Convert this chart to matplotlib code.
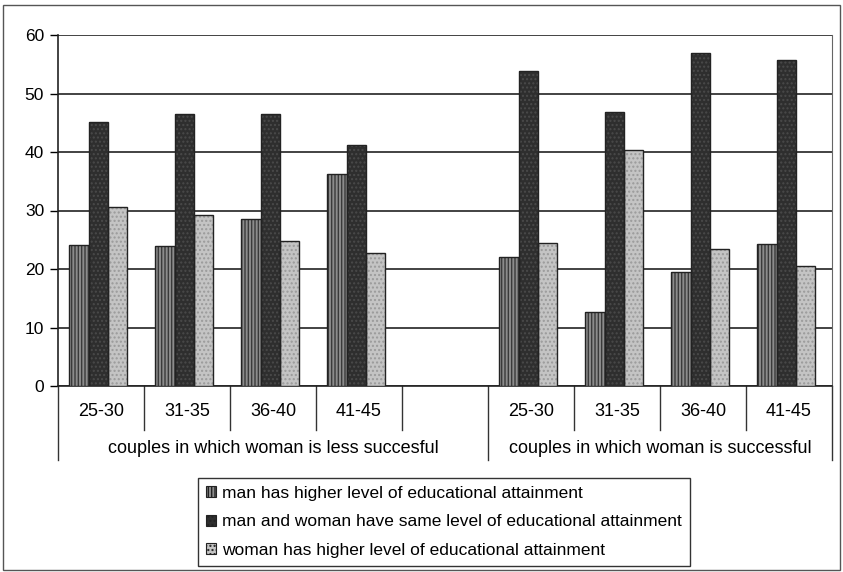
import matplotlib.pyplot as plt
from matplotlib.patches import Patch, Rectangle

plt.rcParams['font.family'] = ['Liberation Sans', 'DejaVu Sans']

age_groups = ['25-30', '31-35', '36-40', '41-45']
group_names = ['couples in which woman is less succesful',
               'couples in which woman is successful']
series_names = ['man has higher level of educational attainment',
                'man and woman have same level of educational attainment',
                'woman has higher level of educational attainment']

# values per series: 4 bars for group 1, then 4 for group 2
man_higher = [24.1, 23.9, 28.5, 36.2, 22.1, 12.7, 19.5, 24.2]
same_level = [45.1, 46.5, 46.5, 41.2, 53.8, 46.8, 57.0, 55.7]
woman_higher = [30.6, 29.3, 24.8, 22.8, 24.4, 40.4, 23.5, 20.5]

# slot positions: 4 categories, one empty slot, 4 categories
slots = [0, 1, 2, 3, 5, 6, 7, 8]

fig = plt.figure(figsize=(8.43, 5.72), dpi=100)
ax = fig.add_axes([58 / 843, 1 - 386 / 572, (832 - 58) / 843, (386 - 35) / 572])

w = 0.225
styles = [
    (man_higher, '#8c8c8c', '#3a3a3a', '|||||'),
    (same_level, '#2e2e2e', '#4a4a4a', '....'),
    (woman_higher, '#c4c4c4', '#9a9a9a', '....'),
]
for k, (vals, fc, hc, hatch) in enumerate(styles):
    xs = [s + 0.47 + (k - 1) * w for s in slots]
    ax.bar(xs, vals, width=w, color=fc, edgecolor=hc, hatch=hatch, linewidth=0, zorder=3)
    ax.bar(xs, vals, width=w, fill=False, edgecolor='#222222', linewidth=1.0, zorder=4)

ax.set_xlim(0, 9)
ax.set_ylim(0, 60)
ax.set_yticks(range(0, 61, 10))
ax.tick_params(axis='y', direction='out', length=6, width=1, labelsize=12.5, pad=4)
ax.set_xticks([])
ax.yaxis.grid(True, color='#222222', linewidth=1.2, zorder=0)
ax.set_axisbelow(True)
for side in ['left', 'bottom']:
    ax.spines[side].set_color('#222222')
    ax.spines[side].set_linewidth(1.2)
ax.spines['top'].set_visible(False)
ax.spines['right'].set_color('#666666')

# multi-level category axis
tr = ax.get_xaxis_transform()
for b in range(1, 9):
    if b == 5:
        continue
    ax.plot([b, b], [0, -0.125], color='#333333', lw=1, transform=tr, clip_on=False)
for b in [0, 5, 9]:
    ax.plot([b, b], [0, -0.211], color='#333333', lw=1, transform=tr, clip_on=False)
for s, lab in zip(slots, age_groups * 2):
    ax.text(s + 0.5, -0.072, lab, transform=tr, ha='center', va='center', fontsize=13)
ax.text(2.5, -0.177, group_names[0], transform=tr, ha='center', va='center', fontsize=13)
ax.text(7.0, -0.177, group_names[1], transform=tr, ha='center', va='center', fontsize=13)

handles = [Patch(facecolor=fc, edgecolor='#222222', hatch=h, linewidth=0.8)
           for _, fc, _, h in styles]
leg = fig.legend(handles, series_names, loc='upper left',
                 bbox_to_anchor=(198 / 843, 1 - 478 / 572), fontsize=12.5,
                 handlelength=0.6, handleheight=0.6, handletextpad=0.35,
                 labelspacing=0.78, borderpad=0.45, borderaxespad=0, fancybox=False,
                 edgecolor='#333333', framealpha=1)
leg.get_frame().set_linewidth(1.0)

fig.patches.append(Rectangle((0.003, 0.004), 0.994, 0.988, transform=fig.transFigure,
                             fill=False, edgecolor='#555555', linewidth=1.0))

fig.savefig('out.png', dpi=100)
